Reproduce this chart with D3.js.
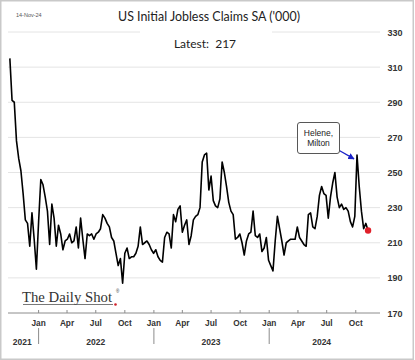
<!DOCTYPE html>
<html><head><meta charset="utf-8">
<script src="https://cdn.jsdelivr.net/npm/d3@7"></script>
<style>
html,body{margin:0;padding:0;background:#fff;}
svg{display:block;}
</style></head>
<body>
<svg id="chart" width="415" height="360"></svg>
<script>
// ---- data ----
const firstWeek = "2021-10-02";
const claims = [
315,291,290,268,258,251,238,223,221,208,
227,212,195,222,246,243,236,228,209,232,
224,208,220,215,206,211,212,215,210,211,
219,207,224,212,201,215,214,215,212,215,
216,218,226,224,221,219,213,211,204,197,
201,187,204,207,201,202,202,204,208,219,
209,210,211,209,206,204,206,202,200,199,
213,216,215,207,226,222,229,231,216,220,
223,209,214,223,225,226,230,256,260,261,
240,248,234,231,230,235,256,250,242,233,
228,226,212,213,215,210,203,211,215,216,
228,214,213,215,205,207,213,200,197,194,
211,225,218,211,203,210,211,212,212,212,
219,213,211,209,208,226,227,219,218,225,
237,242,238,237,224,236,244,250,236,230,
232,229,230,228,222,219,225,260,242,228,
218,221,217];
const yTicks = [170,190,210,230,250,270,290,310,330];
const monthLabels = ["Jan","Apr","Jul","Oct"];
const years = ["2021","2022","2023","2024"];
const titleText = "US Initial Jobless Claims SA ('000)";
const dateText = "14-Nov-24";
const latestText = "Latest:  217";
const annotationLines = ["Helene,","Milton"];

const parse = d3.utcParse("%Y-%m-%d");
const start = parse(firstWeek);
const data = claims.map((v,i)=>({date:d3.utcDay.offset(start,i*7), value:v}));

const svg = d3.select("#chart");
const x = d3.scaleUtc().domain([parse("2022-01-01"), parse("2024-01-01")]).range([38.6, 269.2]);
const y = d3.scaleLinear().domain([170,330]).range([313,32]);

// frame
svg.append("rect").attr("x",0.75).attr("y",0.75).attr("width",412.5).attr("height",358.5)
  .attr("fill","#fff").attr("stroke","#c9c9c9").attr("stroke-width",1.5);

// gridlines
svg.append("g").selectAll("line").data(yTicks.filter(t=>t>170)).join("line")
  .attr("x1",8).attr("x2",380).attr("y1",d=>y(d)).attr("y2",d=>y(d))
  .attr("stroke","#e4e4e4").attr("stroke-width",1);

// right axis labels
svg.append("g").selectAll("text").data(yTicks).join("text")
  .attr("x",395).attr("y",d=>y(d)+3.5).attr("text-anchor","middle")
  .attr("font-family","Liberation Sans, Arial, sans-serif").attr("font-size",9).attr("font-weight","bold")
  .attr("fill","#333").text(d=>d);

// x axis line
svg.append("line").attr("x1",8).attr("x2",380).attr("y1",y(170)).attr("y2",y(170))
  .attr("stroke","#8c8c8c").attr("stroke-width",1);

// month ticks & labels
const monthDates = d3.utcMonth.every(3).range(parse("2022-01-01"), parse("2024-11-01"));
const mg = svg.append("g");
mg.selectAll("line").data(monthDates).join("line")
  .attr("x1",d=>x(d)).attr("x2",d=>x(d)).attr("y1",y(170)-3).attr("y2",y(170))
  .attr("stroke","#8c8c8c");
mg.selectAll("text").data(monthDates).join("text")
  .attr("x",d=>x(d)).attr("y",326).attr("text-anchor","middle")
  .attr("font-family","Liberation Sans, Arial, sans-serif").attr("font-size",8.3).attr("font-weight","bold")
  .attr("fill","#333").text(d=>monthLabels[d.getUTCMonth()/3]);

// year separators
const yearStarts = [parse("2022-01-01"),parse("2023-01-01"),parse("2024-01-01")];
svg.append("g").selectAll("line").data(yearStarts).join("line")
  .attr("x1",d=>x(d)).attr("x2",d=>x(d)).attr("y1",328).attr("y2",344)
  .attr("stroke","#8c8c8c");
const yearCenters = [x(parse("2021-11-10")), x(parse("2022-07-01")), x(parse("2023-07-01")), x(parse("2024-06-15"))];
svg.append("g").selectAll("text").data(years).join("text")
  .attr("x",(d,i)=>yearCenters[i]).attr("y",345).attr("text-anchor","middle")
  .attr("font-family","Liberation Sans, Arial, sans-serif").attr("font-size",8.5).attr("font-weight","bold")
  .attr("fill","#333").text(d=>d);

// title
svg.append("text").attr("x",209).attr("y",21).attr("text-anchor","middle")
  .attr("font-family","Lato, Open Sans, sans-serif").attr("font-size",13)
  .attr("textLength",182).attr("lengthAdjust","spacingAndGlyphs")
  .attr("fill","#222").text(titleText);
svg.append("text").attr("x",16).attr("y",17)
  .attr("font-family","Liberation Sans, Arial, sans-serif").attr("font-size",5.5)
  .attr("fill","#555").text(dateText);

// latest box
svg.append("rect").attr("x",140).attr("y",27).attr("width",132).attr("height",28).attr("fill","#fff");
svg.append("text").attr("x",205).attr("y",48).attr("text-anchor","middle")
  .attr("font-family","Lato, Open Sans, sans-serif").attr("font-size",12)
  .attr("fill","#222").attr("xml:space","preserve").style("white-space","pre").text(latestText);

// logo
const logo = svg.append("g");
logo.append("text").attr("x",22).attr("y",302)
  .attr("font-family","Liberation Serif, DejaVu Serif, serif").attr("font-size",15.5)
  .attr("textLength",90).attr("lengthAdjust","spacingAndGlyphs")
  .attr("fill","#333").text("The Daily Shot");
logo.append("line").attr("x1",23).attr("x2",113).attr("y1",304.5).attr("y2",304.5)
  .attr("stroke","#555").attr("stroke-width",0.8);
logo.append("text").attr("x",116).attr("y",293).attr("font-size",4.5).attr("fill","#333")
  .attr("font-family","Liberation Sans, sans-serif").text("®");
logo.append("circle").attr("cx",115.5).attr("cy",304.5).attr("r",1.3).attr("fill","#d0202a");

// series line
const line = d3.line().x(d=>x(d.date)).y(d=>y(d.value));
svg.append("path").datum(data).attr("d",line).attr("fill","none")
  .attr("stroke","#000").attr("stroke-width",1.6).attr("stroke-linejoin","round");

// last point
const last = data[data.length-1];
svg.append("circle").attr("cx",x(last.date)).attr("cy",y(last.value)).attr("r",3.2).attr("fill","#e0202a");

// annotation
const peak = data[157];
svg.append("defs").append("marker").attr("id","arr").attr("viewBox","0 0 10 10")
  .attr("refX",9).attr("refY",5).attr("markerWidth",5).attr("markerHeight",5).attr("orient","auto")
  .append("path").attr("d","M0,0L10,5L0,10z").attr("fill","#1a22c8");
svg.append("line").attr("x1",339.3).attr("y1",150.5).attr("x2",x(peak.date)-3).attr("y2",y(peak.value)+4)
  .attr("stroke","#1a22c8").attr("stroke-width",1.3).attr("marker-end","url(#arr)");
svg.append("rect").attr("x",297.5).attr("y",122.5).attr("width",42).attr("height",31).attr("rx",2.5)
  .attr("fill","#fff").attr("stroke","#444").attr("stroke-width",0.9);
svg.append("g").selectAll("text").data(annotationLines).join("text")
  .attr("x",318.5).attr("y",(d,i)=>135.5+i*10.5).attr("text-anchor","middle")
  .attr("font-family","Liberation Sans, Arial, sans-serif").attr("font-size",8.5)
  .attr("fill","#222").text(d=>d);
</script>
</body></html>
